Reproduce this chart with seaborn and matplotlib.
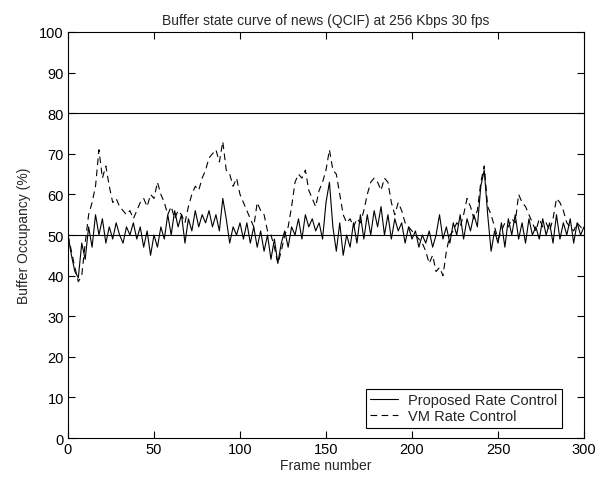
import numpy as np
import pandas as pd
import matplotlib
matplotlib.use("Agg")
import matplotlib.pyplot as plt
import seaborn as sns

frames = list(range(0, 301, 2))

proposed = [50, 45, 41, 39.5, 48, 44, 52, 47, 55, 50, 54,
            48, 52, 49, 53, 50, 48, 52, 50, 53, 49,
            52, 47, 51, 45, 50, 47, 52, 49, 55, 50,
            56, 52, 55, 48, 54, 51, 56, 52, 55, 53,
            56, 52, 55, 51, 59, 54, 48, 52, 50, 53,
            49, 53, 48, 52, 47, 51, 46, 50, 44, 49,
            43, 48, 51, 47, 52, 50, 54, 49, 55, 52,
            54, 51, 53, 49, 58, 63, 52, 46, 53, 45,
            50, 47, 53, 48, 55, 49, 55, 50, 56, 52,
            57, 50, 55, 49, 54, 51, 53, 48, 52, 49,
            51, 47, 50, 48, 51, 47, 50, 55, 49, 52,
            48, 53, 50, 55, 49, 54, 51, 55, 52, 62,
            66, 55, 46, 51, 48, 53, 47, 54, 50, 55,
            49, 53, 48, 54, 50, 52, 49, 54, 50, 53,
            48, 55, 49, 53, 50, 54, 48, 53, 50, 52]

vm = [50, 46, 42, 38.5, 40, 48, 55, 58, 62, 71, 64,
      67, 62, 58, 59, 57, 56, 55, 56, 54, 56,
      58, 59, 57, 60, 59, 63, 60, 58, 55, 57,
      54, 56, 55, 53, 57, 60, 62, 61, 64, 66,
      69, 70, 71, 68, 73, 66, 65, 62, 64, 60,
      58, 56, 54, 52, 58, 56, 55, 51, 50, 47,
      43, 46, 50, 52, 57, 63, 65, 64, 66, 61,
      59, 57, 61, 63, 66, 71, 66, 65, 60, 55,
      53, 54, 52, 54, 53, 56, 60, 63, 64, 63,
      61, 64, 63, 58, 55, 58, 56, 53, 52, 51,
      50, 49, 48, 46, 43, 45, 41, 42, 40, 46,
      50, 51, 53, 52, 55, 59, 57, 54, 56, 63,
      67, 57, 55, 52, 49, 51, 53, 52, 54, 53,
      60, 58, 57, 55, 53, 51, 54, 52, 53, 51,
      54, 59, 58, 56, 53, 52, 51, 53, 52, 51]

assert len(proposed) == len(frames) and len(vm) == len(frames)

series_names = ["Proposed Rate Control", "VM Rate Control"]
df = pd.concat([
    pd.DataFrame({"frame": frames, "occ": proposed, "series": series_names[0]}),
    pd.DataFrame({"frame": frames, "occ": vm, "series": series_names[1]}),
])

sns.set_style("ticks")
plt.rcParams['font.family'] = ['Liberation Sans', 'DejaVu Sans']

fig = plt.figure(figsize=(6.06, 4.81), dpi=100)
ax = fig.add_axes([0.1122, 0.0873, 0.8515, 0.8441])

ax.axhline(80, color="black", lw=0.8, zorder=1)
ax.axhline(50, color="black", lw=0.8, zorder=1)

sns.lineplot(data=df, x="frame", y="occ", hue="series", style="series",
             palette={series_names[0]: "black", series_names[1]: "black"},
             dashes={series_names[0]: "", series_names[1]: (6, 4)},
             linewidth=0.8, ax=ax, estimator=None, sort=False)

ax.set_xlim(0, 300)
ax.set_ylim(0, 100)
ax.set_xticks(range(0, 301, 50))
ax.set_yticks(range(0, 101, 10))
ax.tick_params(direction="in", length=5, width=0.8, top=True, right=True,
               labelsize=10.5, colors="black", pad=3)
for s in ax.spines.values():
    s.set_visible(True)
    s.set_linewidth(0.8)
    s.set_color("black")

ax.set_xlabel("Frame number", fontsize=10, labelpad=1)
ax.set_ylabel("Buffer Occupancy (%)", fontsize=10, labelpad=6)
ax.set_title("Buffer state curve of news (QCIF) at 256 Kbps 30 fps", fontsize=10, pad=6)

leg = ax.legend(loc="lower right", bbox_to_anchor=(0.957, 0.025), borderaxespad=0,
                fontsize=10.5, frameon=True, fancybox=False,
                edgecolor="black", framealpha=1,
                handlelength=1.9, handletextpad=0.7, borderpad=0.3, labelspacing=0.15)
leg.get_frame().set_linewidth(0.8)
leg.set_title(None)

fig.savefig("out.png", dpi=100)
